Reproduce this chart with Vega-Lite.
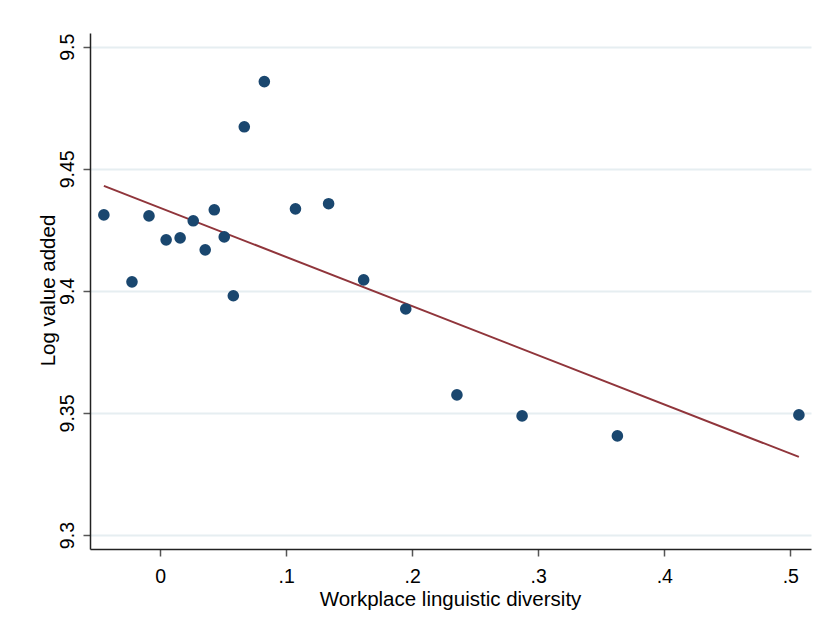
{
  "$schema": "https://vega.github.io/schema/vega-lite/v6.json",
  "width": 721,
  "height": 516,
  "autosize": "none",
  "padding": {"left": 90, "top": 33, "right": 13, "bottom": 77},
  "background": "white",
  "config": {
    "font": "Liberation Sans",
    "view": {"stroke": null},
    "axis": {"labelFont": "Liberation Sans", "titleFont": "Liberation Sans", "labelColor": "black", "titleColor": "black", "labelFontSize": 19.5, "titleFontSize": 20.5, "titleFontWeight": "normal", "domainColor": "#222222", "domainWidth": 1.5, "tickColor": "#555555", "tickWidth": 1.5, "tickSize": 7}
  },
  "datasets": {
    "bins": [
      {"x": -0.0446, "y": 9.4311},
      {"x": -0.0223, "y": 9.4037},
      {"x": -0.0088, "y": 9.4307},
      {"x": 0.0048, "y": 9.4209},
      {"x": 0.0159, "y": 9.4217},
      {"x": 0.0263, "y": 9.4287},
      {"x": 0.0358, "y": 9.4168},
      {"x": 0.0430, "y": 9.4332},
      {"x": 0.0509, "y": 9.4221},
      {"x": 0.0581, "y": 9.3980},
      {"x": 0.0668, "y": 9.4672},
      {"x": 0.0827, "y": 9.4857},
      {"x": 0.1074, "y": 9.4336},
      {"x": 0.1337, "y": 9.4357},
      {"x": 0.1615, "y": 9.4045},
      {"x": 0.1949, "y": 9.3926},
      {"x": 0.2355, "y": 9.3574},
      {"x": 0.2872, "y": 9.3488},
      {"x": 0.3628, "y": 9.3406},
      {"x": 0.5068, "y": 9.3492}
    ],
    "fit": [
      {"x": -0.0446, "y": 9.4430},
      {"x": 0.5068, "y": 9.3320}
    ]
  },
  "layer": [
    {
      "data": {"name": "fit"},
      "mark": {"type": "line", "color": "#90353b", "strokeWidth": 2},
      "encoding": {
        "x": {"field": "x", "type": "quantitative"},
        "y": {"field": "y", "type": "quantitative"}
      }
    },
    {
      "data": {"name": "bins"},
      "mark": {"type": "circle", "color": "#1a476f", "opacity": 1, "size": 135},
      "encoding": {
        "x": {
          "field": "x", "type": "quantitative",
          "scale": {"domain": [-0.0556, 0.5164], "nice": false, "zero": false},
          "axis": {"title": "Workplace linguistic diversity", "values": [0, 0.1, 0.2, 0.3, 0.4, 0.5], "grid": false, "labelExpr": "replace(format(datum.value, '~g'), '0.', '.')", "labelBaseline": "alphabetic", "labelPadding": 26, "titleBaseline": "alphabetic", "titleX": 360, "titleY": 56}
        },
        "y": {
          "field": "y", "type": "quantitative",
          "scale": {"domain": [9.2943, 9.5056], "nice": false, "zero": false},
          "axis": {"title": "Log value added", "values": [9.3, 9.35, 9.4, 9.45, 9.5], "grid": true, "gridColor": "#e6eef1", "gridWidth": 2, "labelAngle": -90, "labelAlign": "center", "labelBaseline": "alphabetic", "labelPadding": 10, "labelExpr": "format(datum.value, '~g')", "titleBaseline": "alphabetic", "titleX": -36, "titleY": 257}
        }
      }
    }
  ]
}
